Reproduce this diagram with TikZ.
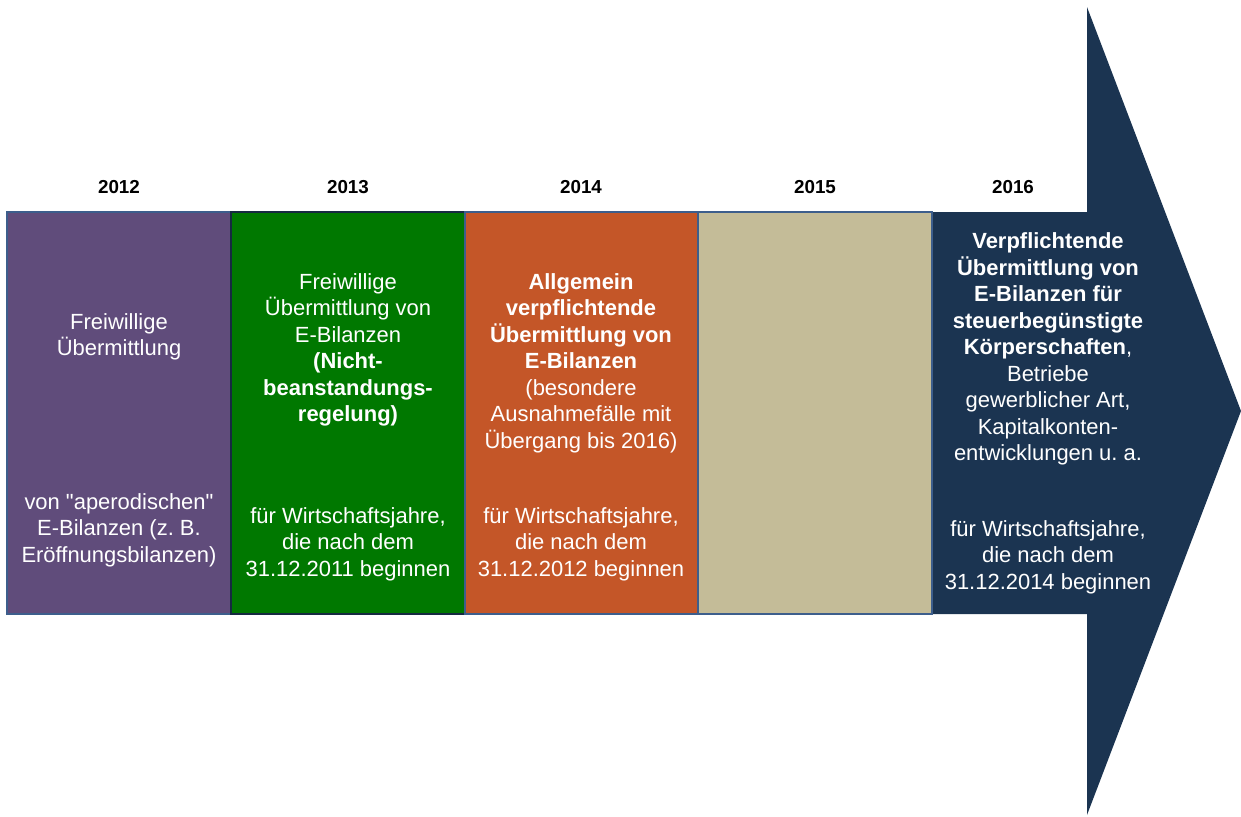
\documentclass[tikz,border=0pt]{standalone}
\usepackage{fontspec}
\setmainfont{Liberation Sans}[Ligatures=TeXOff]
\frenchspacing

\definecolor{lila}{HTML}{604C7B}
\definecolor{gruen}{HTML}{007800}
\definecolor{orange}{HTML}{C45628}
\definecolor{sand}{HTML}{C4BC98}
\definecolor{marine}{HTML}{1B3451}
\definecolor{rahmen}{HTML}{3D5E8C}

\tikzset{
  jahrbox/.style={draw=rahmen, line width=1pt},
  jahr/.style={font=\bfseries\fontsize{10.7}{13}\selectfont},
  boxtext/.style={text=white, align=center, inner sep=0pt,
    font=\fontsize{12.5}{15.1}\selectfont},
}

\begin{document}
\begin{tikzpicture}[x=0.02cm, y=-0.02cm]
        \useasboundingbox (0,0) rectangle (1241,816);

        % Arrow for 2016
        \fill[marine] (932,212) -- (1087,212) -- (1087,7) -- (1241,411)
            -- (1087,815) -- (1087,614) -- (932,614) -- cycle;

        % Boxes
        \draw[jahrbox, fill=lila] (7,212) rectangle (231,614);
        \draw[jahrbox, draw=marine!80!black, fill=gruen] (231,212) rectangle (465,614);
        \draw[jahrbox, fill=orange] (465,212) rectangle (698,614);
        \draw[jahrbox, fill=sand] (698,212) rectangle (932,614);

        % Years
        \node (j2012) [jahr] at (119,187) {2012};
        \node (j2013) [jahr] at (348,187) {2013};
        \node (j2014) [jahr] at (581,187) {2014};
        \node (j2015) [jahr] at (815,187) {2015};
        \node (j2016) [jahr] at (1013,187) {2016};

        % Texts 2012
        \node (t2012a) [boxtext] at (119,337) {Freiwillige\\Übermittlung};
        \node (t2012b) [boxtext] at (119,530) {von "aperodischen"\\E-Bilanzen (z. B.\\Eröffnungsbilanzen)};

        % Texts 2013
        \node (t2013a) [boxtext] at (348,350) {Freiwillige\\Übermittlung von\\E-Bilanzen\\
            \textbf{(Nicht-}\\\textbf{beanstandungs-}\\\textbf{regelung)}};
        \node (t2013b) [boxtext] at (348,544) {für Wirtschaftsjahre,\\die nach dem\\31.12.2011 beginnen};

        % Texts 2014
        \node (t2014a) [boxtext] at (581,363) {\textbf{Allgemein}\\\textbf{verpflichtende}\\
            \textbf{Übermittlung von}\\\textbf{E-Bilanzen}\\(besondere\\Ausnahmefälle mit\\Übergang bis 2016)};
        \node (t2014b) [boxtext] at (581,544) {für Wirtschaftsjahre,\\die nach dem\\31.12.2012 beginnen};

        % Texts 2016
        \node (t2016a) [boxtext] at (1048,349) {\textbf{Verpflichtende}\\\textbf{Übermittlung von}\\
            \textbf{E-Bilanzen für}\\\textbf{steuerbegünstigte}\\\textbf{Körperschaften},\\Betriebe\\
            gewerblicher Art,\\Kapitalkonten-\\entwicklungen u. a.};
        \node (t2016b) [boxtext] at (1048,557) {für Wirtschaftsjahre,\\die nach dem\\31.12.2014 beginnen};
    \end{tikzpicture}
\end{document}
